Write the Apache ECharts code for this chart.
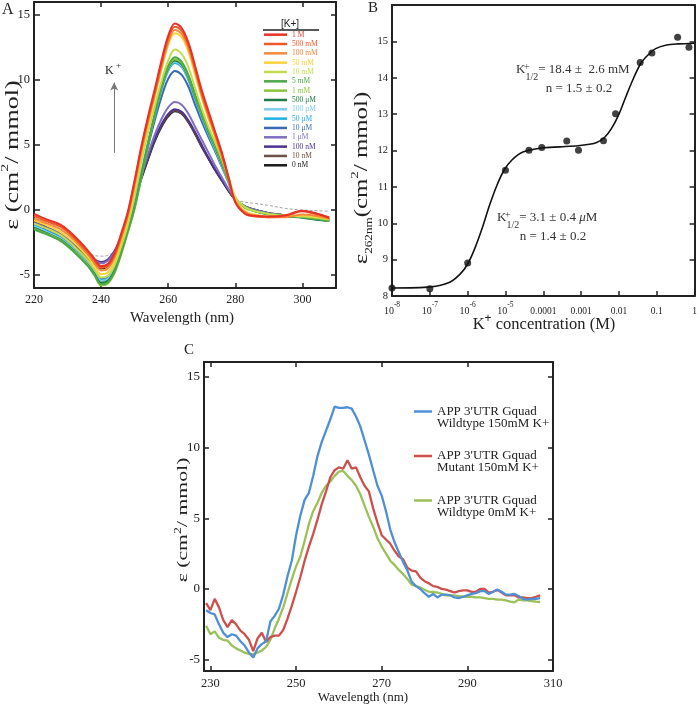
<!DOCTYPE html>
<html>
<head>
<meta charset="utf-8">
<title>CD spectra of APP 3'UTR G-quadruplex</title>
<script src="https://cdn.jsdelivr.net/npm/echarts@6.0.0/dist/echarts.min.js"></script>
<style>
html,body{margin:0;padding:0;background:#fff;}
#chart{width:700px;height:707px;}
</style>
</head>
<body>
<div id="chart"></div>
<script>
// ================= Panel A data =================
const wavelengthA = [220,224,228,232,236,238,240,242,244,246,248,250,252,254,256,258,260,262,264,266,268,270,272,274,276,278,280,283,286,290,295,300,304,308];
const epsA_1M    = [-0.3,-0.75,-1.15,-2.0,-3.1,-3.75,-4.3,-4.15,-3.3,-1.8,-0.1,2.3,4.9,7.2,9.3,11.5,13.4,14.35,14.0,12.9,11.1,9.2,7.6,6.0,4.4,2.5,0.6,-0.3,-0.45,-0.5,-0.4,-0.05,-0.25,-0.6];
const epsA_500mM = [-0.45,-0.9,-1.3,-2.15,-3.25,-3.9,-4.45,-4.3,-3.45,-1.95,-0.25,2.2,4.8,7.0,9.1,11.3,13.2,14.1,13.8,12.7,10.9,9.0,7.4,5.9,4.3,2.4,0.6,-0.3,-0.5,-0.55,-0.45,-0.1,-0.3,-0.55];
const epsA_100mM = [-0.65,-1.05,-1.5,-2.3,-3.4,-4.05,-4.65,-4.5,-3.65,-2.15,-0.45,1.9,4.5,6.8,8.9,11.0,12.9,13.85,13.55,12.45,10.7,8.8,7.2,5.7,4.1,2.4,0.7,-0.2,-0.45,-0.55,-0.55,-0.35,-0.45,-0.7];
const epsA_50mM  = [-0.8,-1.2,-1.7,-2.5,-3.6,-4.3,-4.95,-4.8,-3.95,-2.45,-0.75,1.6,4.2,6.5,8.7,10.8,12.7,13.6,13.3,12.2,10.4,8.6,7.0,5.6,4.1,2.5,0.8,-0.1,-0.35,-0.5,-0.5,-0.4,-0.5,-0.7];
const epsA_10mM  = [-1.05,-1.45,-1.95,-2.8,-3.85,-4.55,-5.2,-5.05,-4.25,-2.8,-1.1,1.1,3.7,6.0,8.0,9.9,11.5,12.35,12.0,11.0,9.4,7.8,6.4,5.2,3.9,2.5,1.0,0.2,-0.1,-0.3,-0.45,-0.5,-0.6,-0.75];
const epsA_5mM   = [-1.5,-1.9,-2.4,-3.25,-4.3,-5.0,-5.7,-5.55,-4.75,-3.3,-1.6,0.2,2.6,5.1,7.4,9.6,11.1,11.75,11.4,10.4,8.9,7.5,6.2,5.0,3.7,2.3,0.9,0.2,-0.1,-0.3,-0.45,-0.55,-0.7,-0.85];
const epsA_1mM   = [-1.45,-1.85,-2.35,-3.2,-4.25,-5.0,-5.8,-5.65,-4.85,-3.4,-1.7,0.1,2.5,5.0,7.3,9.5,11.0,11.6,11.3,10.3,8.8,7.4,6.1,4.9,3.6,2.2,0.9,0.15,-0.1,-0.3,-0.4,-0.5,-0.65,-0.8];
const epsA_500uM = [-1.35,-1.8,-2.3,-3.15,-4.2,-4.9,-5.6,-5.45,-4.65,-3.2,-1.5,0.3,2.7,5.1,7.3,9.4,10.9,11.5,11.2,10.2,8.7,7.3,6.0,4.8,3.5,2.2,0.9,0.2,-0.1,-0.35,-0.5,-0.6,-0.75,-0.85];
const epsA_100uM = [-1.25,-1.7,-2.2,-3.05,-4.1,-4.8,-5.45,-5.3,-4.5,-3.05,-1.35,0.5,2.9,5.2,7.3,9.3,10.8,11.4,11.1,10.1,8.6,7.2,5.9,4.7,3.4,2.1,0.85,0.2,-0.1,-0.3,-0.45,-0.55,-0.65,-0.75];
const epsA_50uM  = [-1.2,-1.65,-2.15,-3.0,-4.05,-4.75,-5.4,-5.25,-4.45,-3.0,-1.3,0.5,2.9,5.2,7.2,9.2,10.7,11.3,11.0,10.0,8.5,7.1,5.8,4.6,3.4,2.1,0.85,0.2,-0.1,-0.3,-0.45,-0.55,-0.65,-0.75];
const epsA_10uM  = [-1.15,-1.6,-2.1,-2.95,-4.0,-4.65,-5.3,-5.15,-4.35,-2.9,-1.25,0.5,2.8,4.9,6.9,8.7,10.1,10.7,10.4,9.5,8.1,6.8,5.6,4.5,3.3,2.1,0.85,0.2,-0.1,-0.3,-0.45,-0.55,-0.65,-0.7];
const epsA_1uM   = [-1.0,-1.4,-1.85,-2.6,-3.45,-3.85,-4.1,-3.9,-3.25,-2.1,-0.6,1.0,2.7,4.3,5.8,7.0,7.9,8.3,8.1,7.4,6.4,5.4,4.4,3.4,2.5,1.6,0.85,0.25,0.0,-0.25,-0.4,-0.5,-0.6,-0.7];
const epsA_100nM = [-1.0,-1.4,-1.85,-2.55,-3.4,-3.8,-4.0,-3.8,-3.15,-2.0,-0.5,1.0,2.6,4.1,5.5,6.6,7.4,7.75,7.55,6.9,6.0,5.0,4.0,3.1,2.3,1.5,0.8,0.25,0.0,-0.25,-0.4,-0.5,-0.6,-0.7];
const epsA_10nM  = [-0.9,-1.35,-1.85,-2.65,-3.6,-4.1,-4.4,-4.2,-3.45,-2.2,-0.65,0.9,2.5,4.0,5.4,6.5,7.3,7.65,7.45,6.8,5.9,4.9,4.0,3.1,2.3,1.5,0.8,0.25,0.0,-0.25,-0.4,-0.5,-0.6,-0.7];
const epsA_0nM   = [-0.9,-1.4,-1.9,-2.7,-3.65,-4.2,-4.5,-4.3,-3.55,-2.3,-0.7,0.8,2.4,3.9,5.3,6.4,7.2,7.6,7.4,6.75,5.85,4.85,3.95,3.05,2.25,1.45,0.8,0.25,0.0,-0.25,-0.4,-0.5,-0.6,-0.7];
const epsA_dashed = [-0.95,-1.5,-2.1,-2.75,-3.3,-3.5,-3.55,-3.5,-3.15,-2.3,null,null,null,null,null,null,null,null,null,null,null,null,null,null,null,null,0.75,0.6,0.5,0.35,0.12,0.0,-0.05,-0.1];
const labelsA = ['1 M','500 mM','100 mM','50 mM','10 mM','5 mM','1 mM','500 μM','100 μM','50 μM','10 μM','1 μM','100 nM','10 nM','0 nM'];
const valuesA = [epsA_1M,epsA_500mM,epsA_100mM,epsA_50mM,epsA_10mM,epsA_5mM,epsA_1mM,epsA_500uM,epsA_100uM,epsA_50uM,epsA_10uM,epsA_1uM,epsA_100nM,epsA_10nM,epsA_0nM];
const xTicksA = [220,240,260,280,300];
const yTicksA = [-5,0,5,10,15];

// ================= Panel B data =================
const concExpB = [-8,-7,-6,-5,-4.38,-4.04,-3.38,-3.07,-2.41,-2.09,-1.44,-1.13,-0.45,-0.15];
const eps262B  = [8.22,8.2,8.91,11.46,12.01,12.08,12.26,12.01,12.27,13.01,14.42,14.68,15.11,14.84];
const fitExpB  = [-8,-6.98,-6.49,-6.2,-6.0,-5.81,-5.61,-5.42,-5.22,-5.03,-4.83,-4.54,-4.05,-3.56,-3.08,-2.78,-2.59,-2.39,-2.2,-2.0,-1.81,-1.61,-1.42,-1.22,-1.03,-0.74,-0.44,0];
const fitEpsB  = [8.22,8.25,8.37,8.6,8.88,9.31,9.88,10.5,11.06,11.47,11.74,11.96,12.07,12.1,12.13,12.17,12.22,12.35,12.6,13.0,13.5,14.0,14.4,14.64,14.8,14.9,14.93,14.95];
const yTicksB = [8,9,10,11,12,13,14,15];

// ================= Panel C data =================
const wavelengthC = [229,230,231,232,233,234,235,236,237,238,239,240,241,242,243,244,245,246,247,248,249,250,251,252,253,254,255,256,257,258,259,260,261,262,263,264,265,266,267,268,269,270,271,272,273,274,275,276,277,278,279,280,281,282,283,284,285,286,287,288,289,290,291,292,293,294,295,296,297,298,299,300,301,302,303,304,305,306,307];
const epsC_wt150 = [-1.5,-1.7,-1.8,-2.5,-3.1,-3.4,-3.2,-3.3,-3.7,-4.0,-4.5,-4.85,-4.2,-3.9,-3.7,-2.3,-1.9,-1.4,-0.4,0.9,2.0,3.8,5.2,6.3,6.8,8.0,9.4,10.4,11.2,12.0,12.9,12.8,12.8,12.85,12.75,12.2,11.5,10.5,9.5,8.4,7.3,6.6,5.5,4.2,3.3,2.6,1.9,1.3,0.5,0.2,0.0,-0.3,-0.55,-0.35,-0.6,-0.4,-0.4,-0.45,-0.6,-0.65,-0.55,-0.45,-0.35,-0.3,-0.15,-0.15,-0.35,-0.2,-0.05,-0.2,-0.4,-0.4,-0.35,-0.5,-0.7,-0.75,-0.7,-0.7,-0.65];
const epsC_mut150 = [-1.0,-1.5,-0.7,-1.3,-2.2,-2.7,-2.2,-2.5,-2.95,-3.2,-3.6,-4.4,-3.5,-3.1,-3.75,-3.4,-3.3,-3.3,-2.9,-2.1,-1.2,-0.2,0.85,2.0,3.0,3.9,4.9,6.0,6.9,7.9,8.4,8.6,8.5,9.1,8.5,8.6,7.9,7.3,6.9,5.7,4.7,3.8,3.5,3.2,2.7,2.3,2.1,1.5,1.3,1.25,0.8,0.55,0.4,0.2,0.15,0.0,-0.05,-0.15,-0.25,-0.15,-0.1,-0.1,-0.2,-0.2,0.0,0.0,-0.25,-0.2,-0.05,-0.25,-0.45,-0.45,-0.45,-0.6,-0.6,-0.65,-0.65,-0.55,-0.45];
const epsC_wt0 = [-2.6,-3.2,-3.0,-3.45,-3.6,-3.65,-4.0,-4.2,-4.35,-4.5,-4.6,-4.6,-4.5,-4.35,-4.1,-3.6,-2.8,-2.1,-1.3,-0.3,0.7,1.6,2.3,3.4,4.6,5.5,6.1,6.8,7.3,7.6,8.0,8.3,8.35,8.0,7.7,7.3,6.7,5.9,5.1,4.4,3.6,3.0,2.5,2.0,1.7,1.35,1.05,0.7,0.3,0.2,0.1,-0.05,-0.2,-0.2,-0.25,-0.35,-0.45,-0.45,-0.45,-0.5,-0.55,-0.55,-0.55,-0.6,-0.6,-0.65,-0.7,-0.7,-0.75,-0.75,-0.8,-0.9,-0.95,-0.75,-0.8,-0.8,-0.85,-0.9,-0.92];
const namesC = ["APP 3'UTR Gquad\nWildtype 150mM K+","APP 3'UTR Gquad\nMutant 150mM K+","APP 3'UTR Gquad\nWildtype 0mM K+"];
const valuesC = [epsC_wt150, epsC_mut150, epsC_wt0];
const xTicksC = [230,250,270,290,310];
const yTicksC = [-5,0,5,10,15];

// ================= styles =================
const colorsA = ['#e63228','#f05a28','#f4893c','#f9d23c','#c5db4e','#4aa84a','#8cc63f','#1f7a45','#7fcdee','#21aee3','#3b69b3','#7e6fbf','#4b3293','#6e5046','#1a1a1a'];
const colorsC = ['#4f8fd6','#cd504c','#9cc15a'];
const SERIF = "'Liberation Serif','Times New Roman',serif";
const SANS = "'Liberation Sans',Arial,sans-serif";
const INK = '#222';

function frameAxis(gridIndex, extra) {
  const base = {
    gridIndex: gridIndex,
    type: 'value',
    axisLine: {show: true, onZero: false, lineStyle: {color: INK, width: 2}},
    splitLine: {show: false},
    axisTick: {show: true, inside: true, length: 5, lineStyle: {color: INK, width: 1.5}},
    axisLabel: {show: false}
  };
  return Object.assign(base, extra);
}
const zip = (xs, ys) => xs.map((x, i) => [x, ys[i]]);

const series = [];
// Panel A spectra (drawn from 0 nM up so the high-K+ traces lie on top)
for (let i = labelsA.length - 1; i >= 0; i--) {
  series.push({
    name: labelsA[i], type: 'line', xAxisIndex: 0, yAxisIndex: 0,
    data: zip(wavelengthA, valuesA[i]), smooth: 0.35, showSymbol: false,
    lineStyle: {color: colorsA[i], width: 2}, itemStyle: {color: colorsA[i]}, z: 3
  });
}
series.push({
  name: 'reference', type: 'line', xAxisIndex: 0, yAxisIndex: 0,
  data: zip(wavelengthA, epsA_dashed), smooth: 0.35, showSymbol: false, connectNulls: false,
  lineStyle: {color: '#999', width: 0.9, type: [3, 2]}, z: 2,
  markLine: {
    silent: true, symbol: ['none', 'arrow'], symbolSize: [6, 8],
    lineStyle: {color: '#777', width: 1, type: 'solid'}, label: {show: false},
    data: [[{coord: [243.9, 4.4]}, {coord: [243.9, 9.8]}]]
  }
});
// Panel B
series.push({
  name: 'fit', type: 'line', xAxisIndex: 2, yAxisIndex: 2,
  data: fitExpB.map((e, i) => [Math.pow(10, e), fitEpsB[i]]), smooth: 0.3, showSymbol: false,
  lineStyle: {color: '#111', width: 1.6}, z: 3
});
series.push({
  name: 'measured', type: 'scatter', xAxisIndex: 2, yAxisIndex: 2,
  data: concExpB.map((e, i) => [Math.pow(10, e), eps262B[i]]), symbolSize: 7,
  itemStyle: {color: '#111'}, z: 4
});
// Panel C
valuesC.forEach((vals, i) => {
  series.push({
    name: namesC[i], type: 'line', xAxisIndex: 4, yAxisIndex: 4,
    data: zip(wavelengthC, vals), showSymbol: false,
    lineStyle: {color: colorsC[i], width: 2.3}, itemStyle: {color: colorsC[i]},
    z: 3 - i * 0.1
  });
});

const decimalLabels = {'-4': '0.0001', '-3': '0.001', '-2': '0.01', '-1': '0.1', '0': '1'};

const option = {
  animation: false,
  backgroundColor: '#fff',
  grid: [
    {left: 34, top: 2, width: 302, height: 286},
    {left: 392, top: 5, width: 305, height: 291},
    {left: 204, top: 362, width: 349, height: 309}
  ],
  xAxis: [
    frameAxis(0, {min: 220, max: 310, position: 'bottom',
      axisTick: {show: true, inside: true, length: 5, customValues: xTicksA, lineStyle: {color: INK, width: 1.5}},
      axisLabel: {show: true, customValues: xTicksA, margin: 6, color: INK, fontFamily: SERIF, fontSize: 12}}),
    frameAxis(0, {min: 220, max: 310, position: 'top',
      axisTick: {show: true, inside: true, length: 5, customValues: xTicksA, lineStyle: {color: INK, width: 1.5}}}),
    frameAxis(1, {type: 'log', logBase: 10, min: 1e-8, max: 1, splitNumber: 8, position: 'bottom',
      axisLabel: {show: true, margin: 5, color: INK, fontFamily: SERIF, fontSize: 9.5,
        formatter: function (v) {
          const l = Math.log10(v), e = Math.round(l);
          if (Math.abs(l - e) > 1e-6) return '';
          if (e <= -5) return '{b|10}{s|' + e + '}';
          return '{d|' + decimalLabels[String(e)] + '}';
        },
        rich: {
          b: {fontSize: 10, fontFamily: SERIF, color: INK, verticalAlign: 'bottom', lineHeight: 15},
          s: {fontSize: 7.5, fontFamily: SERIF, color: INK, verticalAlign: 'top', lineHeight: 15},
          d: {fontSize: 9.5, fontFamily: SERIF, color: INK, verticalAlign: 'bottom', lineHeight: 15}
        }}}),
    frameAxis(1, {type: 'log', logBase: 10, min: 1e-8, max: 1, position: 'top', axisTick: {show: false}}),
    frameAxis(2, {min: 228.5, max: 310, position: 'bottom',
      axisTick: {show: true, inside: true, length: 5, customValues: xTicksC, lineStyle: {color: INK, width: 1.5}},
      axisLabel: {show: true, customValues: xTicksC, margin: 6, color: INK, fontFamily: SERIF, fontSize: 12.5}}),
    frameAxis(2, {min: 228.5, max: 310, position: 'top',
      axisTick: {show: true, inside: true, length: 5, customValues: xTicksC, lineStyle: {color: INK, width: 1.5}}})
  ],
  yAxis: [
    frameAxis(0, {min: -6, max: 16, position: 'left',
      axisTick: {show: true, inside: true, length: 6, customValues: yTicksA, lineStyle: {color: INK, width: 1.5}},
      axisLabel: {show: true, customValues: yTicksA, margin: 4, color: INK, fontFamily: SERIF, fontSize: 12.5}}),
    frameAxis(0, {min: -6, max: 16, position: 'right',
      axisTick: {show: true, inside: true, length: 5, customValues: yTicksA, lineStyle: {color: INK, width: 1.5}}}),
    frameAxis(1, {min: 8, max: 16, position: 'left',
      axisTick: {show: true, inside: true, length: 5, customValues: yTicksB, lineStyle: {color: INK, width: 1.5}},
      axisLabel: {show: true, customValues: yTicksB, margin: 4, color: INK, fontFamily: SERIF, fontSize: 10.5}}),
    frameAxis(1, {min: 8, max: 16, position: 'right',
      axisTick: {show: true, inside: true, length: 5, customValues: yTicksB, lineStyle: {color: INK, width: 1.5}}}),
    frameAxis(2, {min: -5.8, max: 16.05, position: 'left',
      axisTick: {show: true, inside: true, length: 5, customValues: yTicksC, lineStyle: {color: INK, width: 1.5}},
      axisLabel: {show: true, customValues: yTicksC, margin: 4, color: INK, fontFamily: SERIF, fontSize: 13}}),
    frameAxis(2, {min: -5.8, max: 16.05, position: 'right',
      axisTick: {show: true, inside: true, length: 5, customValues: yTicksC, lineStyle: {color: INK, width: 1.5}}})
  ],
  legend: [
    {
      orient: 'vertical', left: 264, top: 30, padding: 0, itemGap: 0,
      itemWidth: 23, itemHeight: 2.5, icon: 'rect', selectedMode: false,
      textStyle: {fontFamily: SERIF, fontSize: 7.5, lineHeight: 9.33},
      data: labelsA.map((n, i) => ({name: n, textStyle: {color: colorsA[i]}}))
    },
    {
      orient: 'vertical', left: 414, top: 393, padding: 0, itemGap: 7.5,
      itemWidth: 18, itemHeight: 2.5, icon: 'rect', selectedMode: false,
      textStyle: {fontFamily: SERIF, fontSize: 13, lineHeight: 12, color: INK},
      formatter: n => '\n' + n,
      data: namesC
    }
  ],
  graphic: [
    {type: 'text', left: 2, top: 2, style: {text: 'A', font: '16px ' + SERIF, fill: INK}},
    {type: 'text', left: 368, top: 1, style: {text: 'B', font: '15px ' + SERIF, fill: INK}},
    {type: 'text', left: 184, top: 343, style: {text: 'C', font: '15px ' + SERIF, fill: INK}},
    // legend heading of panel A
    {type: 'text', x: 290, y: 24, style: {text: '[K+]', font: '10px ' + SANS, fill: INK, align: 'center', verticalAlign: 'middle'}},
    {type: 'line', shape: {x1: 263, y1: 30, x2: 319, y2: 30}, style: {stroke: INK, lineWidth: 1.3}},
    // K+ arrow label
    {type: 'text', x: 113, y: 69, style: {text: '{k|K}{s| +}', align: 'center', verticalAlign: 'middle',
      rich: {k: {font: '12px ' + SERIF, fill: INK, verticalAlign: 'bottom', lineHeight: 16},
             s: {font: '9px ' + SERIF, fill: INK, verticalAlign: 'top', lineHeight: 16}}}},
    // axis titles, panel A
    {type: 'text', x: 11, y: 155, rotation: Math.PI / 2, scaleX: 1.45, style: {
      text: '{a|ε (cm}{s|2}{a|/ mmol)}', align: 'center', verticalAlign: 'middle',
      rich: {a: {font: '18px ' + SERIF, fill: INK, verticalAlign: 'bottom', lineHeight: 22},
             s: {font: '11px ' + SERIF, fill: INK, verticalAlign: 'top', lineHeight: 22}}}},
    {type: 'text', x: 182, y: 318, style: {text: 'Wavelength (nm)', font: '15px ' + SERIF, fill: INK, align: 'center', verticalAlign: 'middle'}},
    // axis titles, panel B
    {type: 'text', x: 362, y: 178, rotation: Math.PI / 2, scaleX: 1.38, style: {
      text: '{a|ε}{b|262nm}{a|(cm}{s|2}{a|/ mmol)}', align: 'center', verticalAlign: 'middle',
      rich: {a: {font: '18px ' + SERIF, fill: INK, verticalAlign: 'middle', lineHeight: 24},
             b: {font: '9.5px ' + SERIF, fill: INK, verticalAlign: 'bottom', lineHeight: 24},
             s: {font: '11px ' + SERIF, fill: INK, verticalAlign: 'top', lineHeight: 24}}}},
    {type: 'text', x: 544, y: 323, style: {
      text: '{a|K}{s|+}{a| concentration (M)}', align: 'center', verticalAlign: 'middle',
      rich: {a: {font: '16.5px ' + SERIF, fill: INK, verticalAlign: 'bottom', lineHeight: 20},
             s: {font: '12px ' + SANS, fill: INK, verticalAlign: 'top', lineHeight: 20}}}},
    // panel B annotations
    {type: 'text', x: 516, y: 73, style: {
      text: '{a|K}{b|1/2}{a|= 18.4 ±  2.6 mM}', align: 'left', verticalAlign: 'middle',
      rich: {a: {font: '13px ' + SERIF, fill: '#333', verticalAlign: 'top', lineHeight: 19},
             b: {font: '10px ' + SERIF, fill: '#333', verticalAlign: 'bottom', lineHeight: 19}}}},
    {type: 'text', x: 524, y: 67, style: {text: '+', font: '10px ' + SERIF, fill: '#333', align: 'left', verticalAlign: 'middle'}},
    {type: 'text', x: 579, y: 89, style: {text: 'n = 1.5 ± 0.2', font: '13px ' + SERIF, fill: '#333', align: 'center', verticalAlign: 'middle'}},
    {type: 'text', x: 497, y: 221, style: {
      text: '{a|K}{b|1/2}{a|= 3.1 ± 0.4 }{i|μ}{a|M}', align: 'left', verticalAlign: 'middle',
      rich: {a: {font: '13px ' + SERIF, fill: '#333', verticalAlign: 'top', lineHeight: 19},
             i: {font: 'italic 13px ' + SERIF, fill: '#333', verticalAlign: 'top', lineHeight: 19},
             b: {font: '10px ' + SERIF, fill: '#333', verticalAlign: 'bottom', lineHeight: 19}}}},
    {type: 'text', x: 505, y: 215, style: {text: '+', font: '10px ' + SERIF, fill: '#333', align: 'left', verticalAlign: 'middle'}},
    {type: 'text', x: 553, y: 237, style: {text: 'n = 1.4 ± 0.2', font: '13px ' + SERIF, fill: '#333', align: 'center', verticalAlign: 'middle'}},
    // axis titles, panel C
    {type: 'text', x: 182, y: 520, rotation: Math.PI / 2, scaleX: 1.45, style: {
      text: '{a|ε (cm}{s|2}{a|/ mmol)}', align: 'center', verticalAlign: 'middle',
      rich: {a: {font: '15px ' + SERIF, fill: INK, verticalAlign: 'bottom', lineHeight: 18},
             s: {font: '9.5px ' + SERIF, fill: INK, verticalAlign: 'top', lineHeight: 18}}}},
    {type: 'text', x: 363, y: 698, style: {text: 'Wavelength (nm)', font: '13px ' + SERIF, fill: INK, align: 'center', verticalAlign: 'middle'}}
  ],
  series: series
};

const chart = echarts.init(document.getElementById('chart'), null, {renderer: 'canvas'});
chart.setOption(option);
</script>
</body>
</html>
